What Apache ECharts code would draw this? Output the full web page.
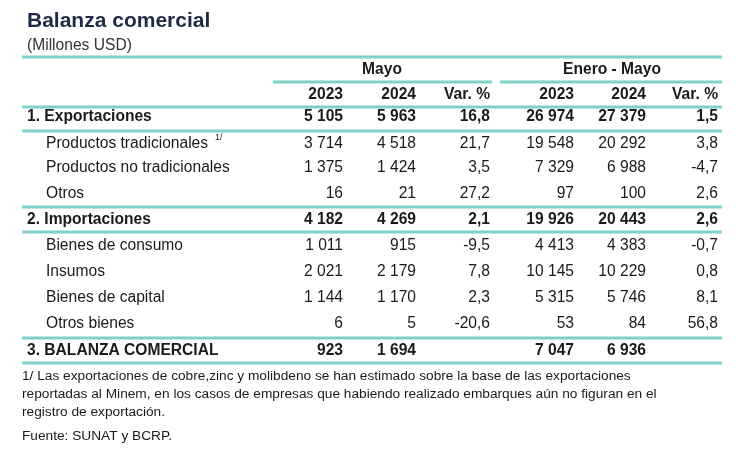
<!DOCTYPE html>
<html><head><meta charset="utf-8">
<script src="https://cdn.jsdelivr.net/npm/echarts@6/dist/echarts.min.js"></script>
<style>html,body{margin:0;padding:0;background:#fff}#main{width:736px;height:455px}</style>
</head><body><div id="main"></div>
<script>
var teal = '#7fcfca', ink = '#1a1a1a', navy = '#1f2b45';
// label, indent, bold, values, row y
var rows = [
  ['1. Exportaciones', 0, true, ['5 105','5 963','16,8','26 974','27 379','1,5'], 117],
  ['Productos tradicionales', 1, false, ['3 714','4 518','21,7','19 548','20 292','3,8'], 144],
  ['Productos no tradicionales', 1, false, ['1 375','1 424','3,5','7 329','6 988','-4,7'], 168],
  ['Otros', 1, false, ['16','21','27,2','97','100','2,6'], 194],
  ['2. Importaciones', 0, true, ['4 182','4 269','2,1','19 926','20 443','2,6'], 220],
  ['Bienes de consumo', 1, false, ['1 011','915','-9,5','4 413','4 383','-0,7'], 246],
  ['Insumos', 1, false, ['2 021','2 179','7,8','10 145','10 229','0,8'], 272],
  ['Bienes de capital', 1, false, ['1 144','1 170','2,3','5 315','5 746','8,1'], 298],
  ['Otros bienes', 1, false, ['6','5','-20,6','53','84','56,8'], 324],
  ['3. BALANZA COMERCIAL', 0, true, ['923','1 694','','7 047','6 936',''], 351]
];
var colX = [343, 416, 490, 574, 646, 718];
var font = 'Liberation Sans, Arial, sans-serif';
var g = [];
function txt(x, y, s, o) {
  o = o || {};
  g.push({type:'text', x:x, y:y, style:{text:s, font:(o.bold?'bold ':'') + (o.size||15.6) + 'px ' + font,
    fill:o.fill||ink, align:o.align||'left', verticalAlign:'middle'}});
}
function line(x1, x2, y, w) {
  g.push({type:'line', shape:{x1:x1, y1:y, x2:x2, y2:y}, style:{stroke:teal, lineWidth:w||3}});
}
txt(27, 21, 'Balanza comercial', {bold:true, size:21, fill:navy});
txt(27, 46, '(Millones USD)', {size:15.6, fill:'#333'});
line(22, 722, 57);
txt(382, 70, 'Mayo', {bold:true, align:'center'});
txt(612, 70, 'Enero - Mayo', {bold:true, align:'center'});
line(273, 492, 82); line(500, 722, 82);
var hdr = ['2023','2024','Var. %','2023','2024','Var. %'];
hdr.forEach(function(h, i){ txt(colX[i], 95, h, {bold:true, align:'right'}); });
line(22, 722, 107);
rows.forEach(function(r){
  txt(r[1] ? 46 : 27, r[4], r[0], {bold:r[2]});
  r[3].forEach(function(v, i){ txt(colX[i], r[4], v, {bold:r[2], align:'right'}); });
});
txt(215, 138, '1/', {size:9});
line(22, 722, 131); line(22, 722, 207); line(22, 722, 232);
line(22, 722, 338); line(22, 722, 363);
var notes = ['1/ Las exportaciones de cobre,zinc y molibdeno se han estimado sobre la base de las exportaciones',
  'reportadas al Minem, en los casos de empresas que habiendo realizado embarques aún no figuran en el',
  'registro de exportación.'];
notes.forEach(function(n, i){ txt(22, 376 + i*18, n, {size:13.7}); });
txt(22, 436, 'Fuente: SUNAT y BCRP.', {size:13.7});
var chart = echarts.init(document.getElementById('main'));
chart.setOption({animation:false, graphic:g});
</script></body></html>
